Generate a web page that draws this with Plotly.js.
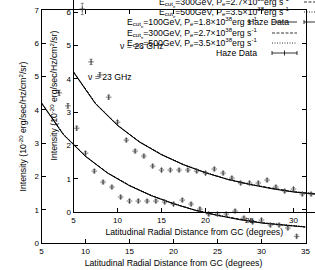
<!DOCTYPE html>
<html>
<head>
<meta charset="utf-8">
<script src="https://cdn.plot.ly/plotly-3.0.1.min.js"></script>
<style>html,body{margin:0;padding:0;background:#fff;}#chart{width:315px;height:270px;}</style>
</head>
<body>
<div id="chart"></div>
<script>
// ---- data ----
const hazeLatitude = [6, 7, 8, 9, 10, 11, 12, 13, 14, 15, 16, 17, 18, 19, 20, 21, 22, 23, 24, 25, 26, 27, 28, 29, 30, 31, 32, 33, 34];
const hazeIntensity = [6.10, 4.51, 4.12, 3.45, 2.70, 2.16, 1.83, 1.68, 1.38, 1.26, 1.26, 1.26, 1.26, 1.23, 1.17, 1.29, 1.17, 1.02, 0.87, 0.87, 0.87, 0.96, 0.75, 0.63, 0.69, 0.54, 0.54, 0.45, 0.20];
const hazeError = [0.17, 0.08, 0.07, 0.06, 0.05, 0.05, 0.05, 0.05, 0.05, 0.05, 0.05, 0.05, 0.05, 0.05, 0.05, 0.05, 0.05, 0.05, 0.05, 0.05, 0.05, 0.05, 0.05, 0.05, 0.05, 0.05, 0.05, 0.05, 0.05];
const modelLatitude = [5, 7.5, 10, 12.5, 15, 17.5, 20, 22.5, 25, 27.5, 30, 32.5, 35];
const model100 = [4.20, 3.25, 2.60, 2.10, 1.72, 1.42, 1.18, 0.98, 0.83, 0.70, 0.60, 0.54, 0.48];
const model300 = [4.21, 3.26, 2.61, 2.11, 1.73, 1.42, 1.18, 0.98, 0.83, 0.71, 0.61, 0.54, 0.48];
const model500 = [4.22, 3.27, 2.61, 2.11, 1.73, 1.43, 1.19, 0.99, 0.84, 0.71, 0.61, 0.55, 0.49];
const legendLabels = [
  'E<sub>cut<sub>e</sub></sub>=100GeV, P<sub>e</sub>=1.8×10<sup>38</sup>erg s<sup>-1</sup>',
  'E<sub>cut<sub>e</sub></sub>=300GeV, P<sub>e</sub>=2.7×10<sup>38</sup>erg s<sup>-1</sup>',
  'E<sub>cut<sub>e</sub></sub>=500GeV, P<sub>e</sub>=3.5×10<sup>38</sup>erg s<sup>-1</sup>',
  'Haze Data'
];
const freqLabel = 'ν = 23 GHz';
const xTitle = 'Latitudinal Radial Distance from GC (degrees)';
const yTitle = 'Intensity (10<sup>-20</sup> erg/sec/Hz/cm<sup>2</sup>/sr)';
const xTicks = [5, 10, 15, 20, 25, 30, 35];
const yTicks = [0, 1, 2, 3, 4, 5, 6, 7];

// ---- geometry (pixels) ----
const W = 315, H = 270;
const TICKFONT = {family: 'Liberation Sans, Arial, sans-serif', size: 8, color: '#000'};
const FONT = {family: 'Liberation Sans, Arial, sans-serif', size: 8.7, color: '#000'};
const outer = {left: 41.5, right: 305.5, top: 10, bottom: 243};
const shift = {dx: 32, dy: -31};
const pxPerX = (outer.right - outer.left) / 30;
const pxPerY = (outer.bottom - outer.top) / 7;
const innerLeft = outer.left + shift.dx, innerBottom = outer.bottom + shift.dy;
const innerXMax = 5 + (W - innerLeft) / pxPerX;
const innerYMax = innerBottom / pxPerY;

const px = v => v / W, py = v => 1 - v / H;
const DASHES = ['solid', '3px,1.5px', '1px,1.5px'];

function traces(xa, ya, withFirst) {
  const s = withFirst ? 0 : 1;
  return [
    {x: modelLatitude, y: model100, xaxis: xa, yaxis: ya, mode: 'lines', line: {color: '#000', width: 1, dash: DASHES[0]}, showlegend: false, hoverinfo: 'skip'},
    {x: modelLatitude, y: model300, xaxis: xa, yaxis: ya, mode: 'lines', line: {color: '#000', width: 1, dash: DASHES[1]}, showlegend: false, hoverinfo: 'skip'},
    {x: modelLatitude, y: model500, xaxis: xa, yaxis: ya, mode: 'lines', line: {color: '#000', width: 1, dash: DASHES[2]}, showlegend: false, hoverinfo: 'skip'},
    {x: hazeLatitude.slice(s), y: hazeIntensity.slice(s), xaxis: xa, yaxis: ya, mode: 'markers',
     marker: {symbol: 'cross-thin', size: 4, line: {color: '#333', width: 0.7}, color: '#333'},
     error_y: {type: 'data', array: hazeError.slice(s), visible: true, color: '#444', thickness: 0.6, width: 1.5},
     showlegend: false, hoverinfo: 'skip'}
  ];
}

const data = [...traces('x', 'y', false), ...traces('x2', 'y2', true)];

function axisBase() {
  return {showline: true, linecolor: '#000', linewidth: 1, ticks: 'inside', ticklen: 4, tickwidth: 1,
          tickcolor: '#000', showgrid: false, zeroline: false, tickfont: TICKFONT, fixedrange: true};
}

const layout = {
  width: W, height: H, margin: {l: 0, r: 0, t: 0, b: 0},
  paper_bgcolor: 'rgba(0,0,0,0)', plot_bgcolor: 'rgba(0,0,0,0)',
  showlegend: false, font: FONT,
  xaxis: Object.assign(axisBase(), {domain: [px(outer.left), px(outer.right)], range: [5, 35], tickvals: xTicks, anchor: 'y', mirror: 'ticks',
    title: {text: xTitle, font: FONT, standoff: 5}}),
  yaxis: Object.assign(axisBase(), {domain: [py(outer.bottom), py(outer.top)], range: [0, 7], tickvals: yTicks, anchor: 'x', mirror: 'ticks'}),
  xaxis2: Object.assign(axisBase(), {domain: [px(innerLeft), 1], range: [5, innerXMax], tickvals: xTicks, anchor: 'y2',
    title: {text: xTitle, font: FONT, standoff: 5}}),
  yaxis2: Object.assign(axisBase(), {domain: [py(innerBottom), 1], range: [0, innerYMax], tickvals: yTicks, anchor: 'x2'}),
  annotations: [], shapes: []
};

// y titles placed beside each copy's axis
[[0, 0], [shift.dx, shift.dy]].forEach(([dx, dy]) => {
  layout.annotations.push({xref: 'paper', yref: 'paper', x: px(22 + dx), y: py((outer.top + outer.bottom) / 2 + dy), text: yTitle,
    textangle: -90, showarrow: false, xanchor: 'center', yanchor: 'middle', font: FONT});
});

// frequency label in each copy
layout.annotations.push({xref: 'x', yref: 'y', x: 10, y: 5, text: freqLabel, showarrow: false, xanchor: 'left', yanchor: 'middle', font: FONT});
layout.annotations.push({xref: 'x2', yref: 'y2', x: 10, y: 5, text: freqLabel, showarrow: false, xanchor: 'left', yanchor: 'middle', font: FONT});

// key (text right aligned, sample to the right), drawn for both copies
const keyRows = [22, 33, 43, 53];
[[0, 0], [shift.dx, shift.dy]].forEach(([dx, dy]) => {
  keyRows.forEach((r, i) => {
    const yy = r + dy;
    layout.annotations.push({xref: 'paper', yref: 'paper', x: px(259 + dx), y: py(yy), text: legendLabels[i], showarrow: false,
      xanchor: 'right', yanchor: 'middle', font: FONT});
    const x0 = 272 + dx, x1 = 297 + dx;
    if (i < 3) {
      layout.shapes.push({type: 'line', xref: 'paper', yref: 'paper', x0: px(x0), x1: px(x1), y0: py(yy), y1: py(yy), line: {color: '#000', width: 0.8, dash: DASHES[i]}});
    } else {
      const c = (x0 + x1) / 2;
      const segs = [[x0, yy, x1, yy], [x0, yy - 2, x0, yy + 2], [x1, yy - 2, x1, yy + 2], [c, yy - 2.5, c, yy + 2.5]];
      segs.forEach(s => layout.shapes.push({type: 'line', xref: 'paper', yref: 'paper', x0: px(s[0]), y0: py(s[1]), x1: px(s[2]), y1: py(s[3]), line: {color: '#000', width: 0.8}}));
    }
  });
});

Plotly.newPlot('chart', data, layout, {staticPlot: true, displayModeBar: false});
</script>
</body>
</html>
